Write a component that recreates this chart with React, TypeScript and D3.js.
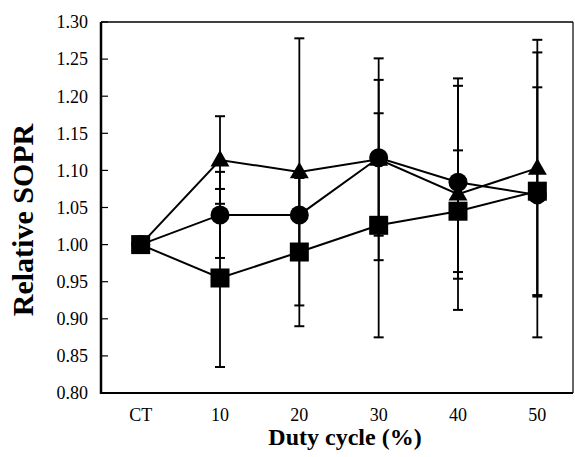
import React, { useEffect, useRef } from "react";
import * as d3 from "d3";

// duty cycle categories
const categories = ["CT", "10", "20", "30", "40", "50"];

// triangle series (mean, sd)
const triMean = [1.0, 1.114, 1.098, 1.115, 1.068, 1.103];
const triSd = [0, 0.059, 0.18, 0.136, 0.156, 0.173];

// circle series
const circMean = [1.0, 1.04, 1.04, 1.117, 1.084, 1.067];
const circSd = [0, 0.058, 0.05, 0.105, 0.13, 0.192];

// square series
const sqMean = [1.0, 0.955, 0.99, 1.026, 1.045, 1.072];
const sqSd = [0, 0.12, 0.1, 0.151, 0.082, 0.14];

const yTicks = [0.8, 0.85, 0.9, 0.95, 1.0, 1.05, 1.1, 1.15, 1.2, 1.25, 1.3];

const W = 575;
const H = 457;
const font = "'Liberation Serif', 'Times New Roman', serif";

export default function App() {
  const svgRef = useRef<SVGSVGElement>(null);

  useEffect(() => {
    const svg = d3.select(svgRef.current);
    svg.selectAll("*").remove();

    const left = 101;
    const right = 573;
    const top = 22;
    const bottom = 393;

    const x = d3.scalePoint<string>().domain(categories).range([left, left + 476]).padding(0.5);
    const y = d3.scaleLinear().domain([0.8, 1.3]).range([bottom, top]);

    const series = [
      { key: "tri", mean: triMean, sd: triSd },
      { key: "circ", mean: circMean, sd: circSd },
      { key: "sq", mean: sqMean, sd: sqSd },
    ];

    // frame
    svg.append("line").attr("x1", left).attr("x2", right).attr("y1", top).attr("y2", top)
      .attr("stroke", "#000").attr("stroke-width", 1.5);
    svg.append("line").attr("x1", right).attr("x2", right).attr("y1", top).attr("y2", bottom)
      .attr("stroke", "#000").attr("stroke-width", 1.2);
    svg.append("line").attr("x1", left).attr("x2", right).attr("y1", bottom).attr("y2", bottom)
      .attr("stroke", "#000").attr("stroke-width", 2.2);
    svg.append("line").attr("x1", left).attr("x2", left).attr("y1", top).attr("y2", bottom + 1)
      .attr("stroke", "#000").attr("stroke-width", 2.5);

    // y ticks (inward) and labels
    svg.selectAll(".ytick").data(yTicks).enter().append("line")
      .attr("x1", left).attr("x2", left + 7)
      .attr("y1", (d) => y(d)).attr("y2", (d) => y(d))
      .attr("stroke", "#000").attr("stroke-width", 1.2);
    svg.selectAll(".ylab").data(yTicks).enter().append("text")
      .attr("x", 88).attr("y", (d) => y(d)).attr("dy", "0.35em")
      .attr("text-anchor", "end")
      .style("font-family", font).style("font-size", "18px")
      .text((d) => d.toFixed(2));

    // x labels
    svg.selectAll(".xlab").data(categories).enter().append("text")
      .attr("x", (d) => x(d) as number).attr("y", 421)
      .attr("text-anchor", "middle")
      .style("font-family", font).style("font-size", "18px")
      .text((d) => d);

    // axis titles
    svg.append("text")
      .attr("x", 345).attr("y", 445)
      .attr("text-anchor", "middle")
      .style("font-family", font).style("font-size", "24px").style("font-weight", "bold")
      .text("Duty cycle (%)");
    svg.append("text")
      .attr("transform", "translate(33, 220) rotate(-90)")
      .attr("text-anchor", "middle")
      .style("font-family", font).style("font-size", "30px").style("font-weight", "bold")
      .text("Relative SOPR");

    // connecting lines
    const line = d3.line<number>()
      .x((_, i) => x(categories[i]) as number)
      .y((d) => y(d));
    series.forEach((s) => {
      svg.append("path").datum(s.mean).attr("d", line)
        .attr("fill", "none").attr("stroke", "#000").attr("stroke-width", 2);
    });

    // error bars
    series.forEach((s) => {
      const g = svg.append("g");
      s.mean.forEach((m, i) => {
        if (s.sd[i] === 0) return;
        const cx = x(categories[i]) as number;
        const hi = y(m + s.sd[i]);
        const lo = y(m - s.sd[i]);
        g.append("line").attr("x1", cx).attr("x2", cx).attr("y1", hi).attr("y2", lo)
          .attr("stroke", "#000").attr("stroke-width", 1.8);
        [hi, lo].forEach((yy) => {
          g.append("line").attr("x1", cx - 5).attr("x2", cx + 5).attr("y1", yy).attr("y2", yy)
            .attr("stroke", "#000").attr("stroke-width", 2);
        });
      });
    });

    // markers
    const triPath = d3.symbol().type(d3.symbolTriangle).size(155);
    svg.selectAll(".tri").data(triMean).enter().append("path")
      .attr("d", triPath)
      .attr("transform", (d, i) => `translate(${x(categories[i])},${y(d) + 1})`)
      .attr("fill", "#000");
    svg.selectAll(".circ").data(circMean).enter().append("circle")
      .attr("cx", (_, i) => x(categories[i]) as number)
      .attr("cy", (d) => y(d))
      .attr("r", 9.5)
      .attr("fill", "#000");
    svg.selectAll(".sq").data(sqMean).enter().append("rect")
      .attr("x", (_, i) => (x(categories[i]) as number) - 9.5)
      .attr("y", (d) => y(d) - 9.5)
      .attr("width", 19).attr("height", 19)
      .attr("fill", "#000");
  }, []);

  return (
    <svg
      ref={svgRef}
      width={W}
      height={H}
      style={{ position: "absolute", left: 0, top: 0, background: "#fff" }}
    />
  );
}
